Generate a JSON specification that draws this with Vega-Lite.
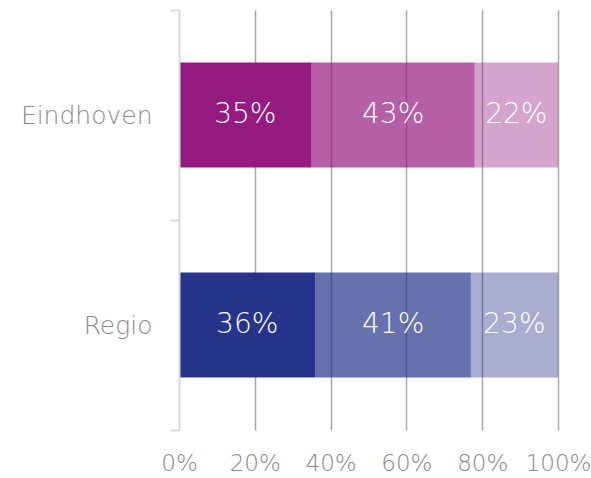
{
  "$schema": "https://vega.github.io/schema/vega-lite/v6.json",
  "autosize": "none",
  "padding": {"left": 179, "top": 10, "right": 33, "bottom": 48},
  "width": 379,
  "height": 420,
  "background": "white",
  "config": {
    "view": {"stroke": null},
    "font": "DejaVu Sans"
  },
  "data": {
    "values": [
      {"regio": "Eindhoven", "cat": 1, "pct": 35, "label": "35%"},
      {"regio": "Eindhoven", "cat": 2, "pct": 43, "label": "43%"},
      {"regio": "Eindhoven", "cat": 3, "pct": 22, "label": "22%"},
      {"regio": "Regio", "cat": 1, "pct": 36, "label": "36%"},
      {"regio": "Regio", "cat": 2, "pct": 41, "label": "41%"},
      {"regio": "Regio", "cat": 3, "pct": 23, "label": "23%"}
    ]
  },
  "encoding": {
    "y": {
      "field": "regio", "type": "nominal", "sort": ["Eindhoven", "Regio"],
      "scale": {"paddingInner": 0, "paddingOuter": 0},
      "axis": {
        "title": null, "domainColor": "#d9d9d9", "domainWidth": 2, "zindex": 1,
        "tickColor": "#d9d9d9", "tickWidth": 2, "tickSize": 9, "tickBand": "extent",
        "labelFontSize": 25, "labelColor": "#8a8a8a", "labelPadding": 18, "grid": false,
        "labelFont": "DejaVu Sans", "labelFontWeight": 200
      }
    },
    "x": {
      "field": "pct", "type": "quantitative", "stack": "zero",
      "scale": {"domain": [0, 100], "nice": false},
      "axis": {
        "title": null, "values": [0, 20, 40, 60, 80, 100], "format": "d",
        "labelExpr": "datum.value + '%'",
        "domain": false, "ticks": false, "tickSize": 0, "labelPadding": 22,
        "labelFlush": false, "labelAlign": "center",
        "grid": true,
        "gridColor": {"condition": {"test": "datum.value === 0", "value": "transparent"}, "value": "#a6a6a6"},
        "gridWidth": 1.5,
        "labelFontSize": 23, "labelColor": "#8a8a8a", "labelOverlap": false,
        "labelBound": false, "labelFont": "DejaVu Sans", "labelFontWeight": 200
      }
    },
    "order": {"field": "cat", "type": "quantitative"}
  },
  "layer": [
    {
      "mark": {"type": "bar", "height": {"band": 0.5}},
      "encoding": {
        "color": {
          "field": "regio", "type": "nominal",
          "scale": {"domain": ["Eindhoven", "Regio"], "range": ["#951B81", "#27348B"]},
          "legend": null
        },
        "opacity": {
          "field": "cat", "type": "quantitative",
          "scale": {"type": "linear", "domain": [1, 3], "range": [1, 0.4]},
          "legend": null
        }
      }
    },
    {
      "mark": {"type": "text", "color": "white", "fontSize": 28, "fontWeight": 200, "baseline": "middle", "align": "center", "font": "DejaVu Sans"},
      "encoding": {
        "x": {"field": "pct", "type": "quantitative", "stack": "zero", "bandPosition": 0.5},
        "text": {"field": "label"}
      }
    }
  ]
}
